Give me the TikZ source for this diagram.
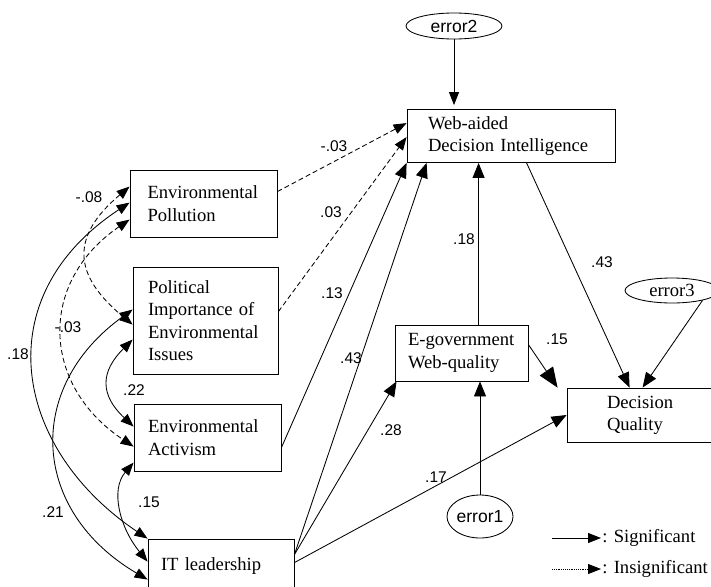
\documentclass[tikz,border=0pt]{standalone}
\usepackage{fontspec}
\setmainfont{Liberation Serif}
\newfontfamily\arialf{Liberation Sans}
\usetikzlibrary{arrows.meta,calc,shapes.geometric}
\hyphenpenalty=10000
\exhyphenpenalty=10000
\begin{document}
\begin{tikzpicture}[x=1pt,y=-1pt,
  line width=0.85pt,
  box/.style={draw, rectangle, inner ysep=0pt, align=left,
    font=\fontsize{18.6}{22.3}\selectfont},
  errsans/.style={draw, ellipse, inner sep=0pt, font=\arialf\fontsize{17.5}{20}\selectfont},
  errserif/.style={draw, ellipse, inner sep=0pt, font=\fontsize{18.6}{20}\selectfont},
  num/.style={inner sep=0pt, font=\arialf\fontsize{15.5}{18}\selectfont},
  legtext/.style={inner sep=0pt, anchor=base west, font=\fontsize{18.6}{20}\selectfont},
  arr/.style={-{Triangle[length=13pt,width=10pt]}},
  bigarr/.style={-{Triangle[length=15pt,width=12pt]}},
  hugearr/.style={-{Triangle[length=20pt,width=16pt]}},
  both/.style={{Triangle[length=13pt,width=10pt]}-{Triangle[length=13pt,width=10pt]}},
  dsh/.style={dash pattern=on 5pt off 3pt}
]
\useasboundingbox (0,0) rectangle (711,586);
\clip (0,0) rectangle (711,586);

% boxes
\node[box, minimum width=147pt, minimum height=67pt, text width=112pt, inner xsep=17.5pt] (EP) at (203.5,203.5) {Environmental\\Pollution};
\node[box, minimum width=145pt, minimum height=107pt, text width=115pt, inner xsep=15pt] (PI) at (205.5,320.5) {Political\\Importance of\\Environmental\\Issues};
\node[box, minimum width=147pt, minimum height=67pt, text width=119pt, inner xsep=14pt] (EA) at (207.5,437.5) {Environmental\\Activism};
\node[box, minimum width=146pt, minimum height=54pt, text width=120pt, inner xsep=13pt] (IT) at (221,566) {IT leadership};
\node[box, minimum width=208pt, minimum height=53pt, text width=166pt, inner xsep=21pt] (W) at (511,136) {Web-aided\\Decision Intelligence};
\node[box, minimum width=133pt, minimum height=56pt, text width=107pt, inner xsep=13pt] (E) at (461.5,353) {E-government\\Web-quality};
\node[box, minimum width=153pt, minimum height=54pt, text width=73pt, inner xsep=40pt] (D) at (643.5,415) {Decision\\Quality};

% error terms
\node[errsans, minimum width=96pt, minimum height=26pt] (X2) at (454,26) {error2};
\node[errsans, minimum width=66pt, minimum height=43pt] (X1) at (480,516.5) {error1};
\node[errserif, minimum width=94pt, minimum height=25pt] (X3) at (672,290.5) {error3};

% paths to Web-aided Decision Intelligence
\draw[arr, shorten >=4pt] (X2.south) -- (X2.south |- W.north);
\draw[dsh, arr] ($(EP.north east)+(0,22)$) -- ($(W.north west)+(0,14)$);
\draw[dsh, arr] ($(PI.north east)+(0,45)$) -- ($(W.north west)+(0,28)$);
\draw[bigarr] ($(EA.north east)+(0,44)$) -- (W.south west);
\draw[bigarr] ($(IT.north east)+(0,16)$) -- ($(W.south west)+(20,0)$);
\draw[bigarr] ($(E.north west)+(84,0)$) -- ($(W.south west)+(72,0)$);

% paths to E-government
\draw[bigarr] ($(IT.north east)+(0,16)$) -- ($(E.south west)+(2,0)$);
\draw[bigarr] (X1.north) -- (X1.north |- E.south);

% paths to Decision Quality
\draw[bigarr] ($(W.south west)+(120,0)$) -- ($(D.north west)+(63,0)$);
\draw[bigarr] (X3.-18) -- ($(D.north west)+(76,0)$);
\draw[hugearr] ($(E.north east)+(0,20)$) -- ($(D.north west)+(-9,0)$);
\draw[bigarr] ($(IT.north east)+(0,24)$) -- (D.west);

% correlations
\draw[dsh, both] ($(EP.north west)+(0,17)$) .. controls (70,237) and (73,275) .. ($(PI.north west)+(0,58)$);
\draw[both] ($(EP.north west)+(0,33)$) .. controls (-15,298) and (14,449) .. (IT.north west);
\draw[dsh, both] ($(EP.north west)+(0,50)$) .. controls (38,282) and (41,385) .. ($(EA.north west)+(0,43)$);
\draw[both] ($(PI.north west)+(0,43)$) .. controls (24,388) and (31,511) .. ($(IT.north west)+(0,41)$);
\draw[both] ($(PI.north west)+(0,73)$) .. controls (100,372) and (100,395) .. ($(EA.north west)+(0,23)$);
\draw[both] ($(EA.north west)+(0,59)$) .. controls (110,490) and (120,528) .. ($(IT.north west)+(0,23)$);

% coefficients
\node[num] (c1) at (334,146) {-.03};
\node[num] (c2) at (331,212) {.03};
\node[num] (c3) at (332,293) {.13};
\node[num] (c4) at (351,358) {.43};
\node[num] (c5) at (464,239) {.18};
\node[num] (c6) at (602,262) {.43};
\node[num] (c7) at (557,339) {.15};
\node[num] (c8) at (391,430) {.28};
\node[num] (c9) at (436,477) {.17};
\node[num] (c10) at (89,197) {-.08};
\node[num] (c11) at (68,327) {-.03};
\node[num] (c12) at (18,354) {.18};
\node[num] (c13) at (134,390) {.22};
\node[num] (c14) at (149,502) {.15};
\node[num] (c15) at (53,512) {.21};

% legend
\coordinate (la1) at (552,538);
\coordinate (lb1) at (601,538);
\coordinate (la2) at (552,569);
\coordinate (lb2) at (601,569);
\draw[arr] (la1) -- (lb1);
\draw[arr, densely dotted] (la2) -- (lb2);
\node[legtext] (lt1) at (602,542.5) {: Significant};
\node[legtext] (lt2) at (602,573.5) {: Insignificant};
\end{tikzpicture}
\end{document}
